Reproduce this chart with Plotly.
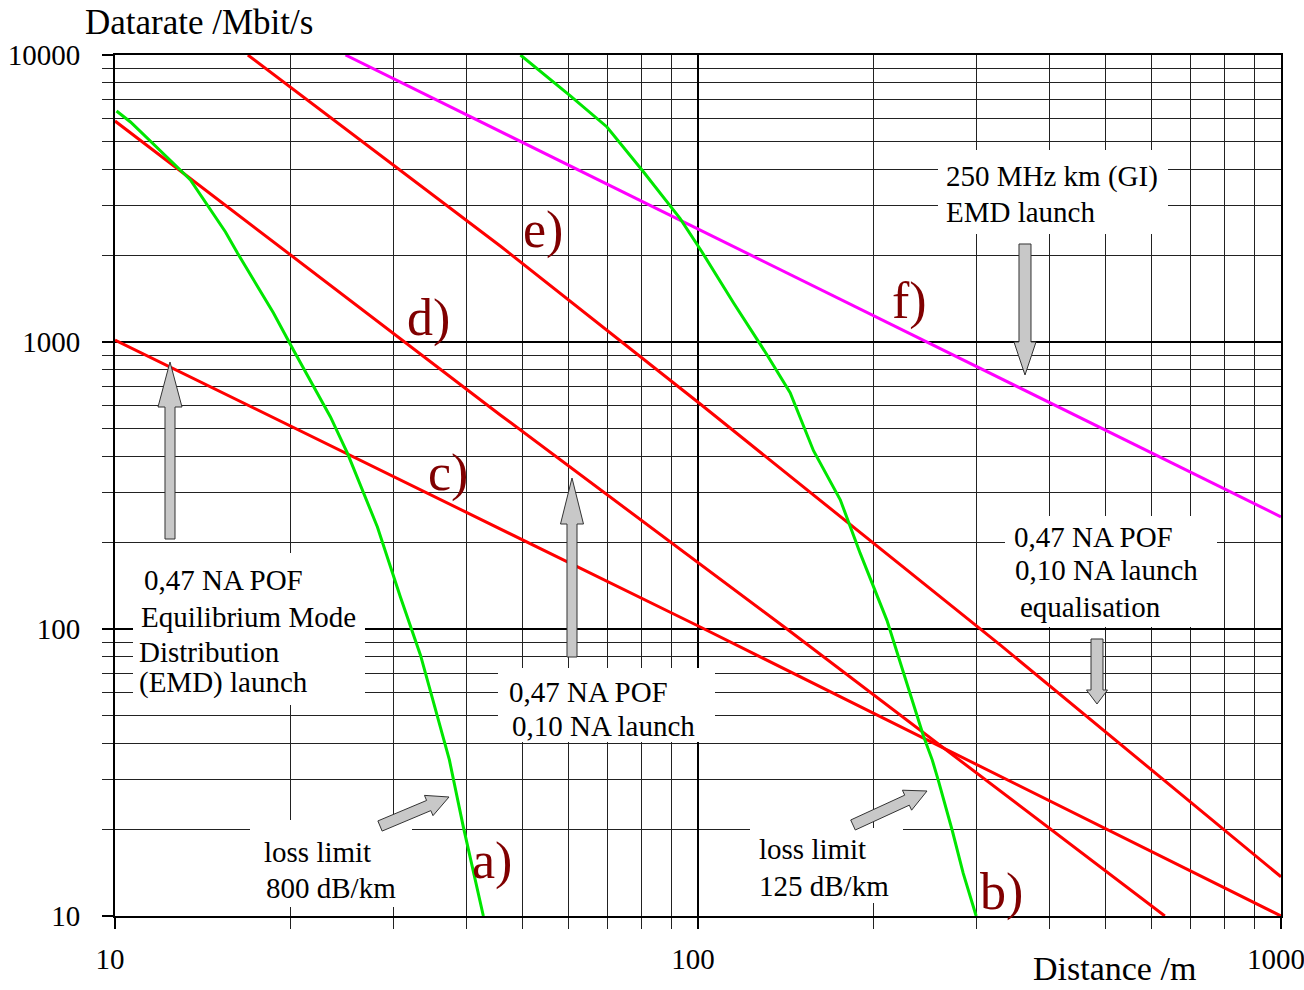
import math
import plotly.graph_objects as go

# ---------------- data ----------------
# a) loss limit 800 dB/km (green)
a_dist = [10.06, 10.63, 13.10, 13.47, 15.47, 16.22, 18.70, 20.23, 23.42, 25.04,
          28.19, 30.87, 33.41, 37.46, 39.59, 41.18, 42.84]
a_rate = [6381, 5843, 3880, 3668, 2417, 2042, 1262, 938, 548, 410,
          226.7, 129.3, 81.2, 34.97, 20.4, 14.46, 10]
# b) loss limit 125 dB/km (green)
b_dist = [49.6, 60.4, 69.8, 80.6, 93.2, 101.6, 115.1, 131.3, 143.9, 157.8,
          175.4, 189.8, 210.9, 243.7, 252.2, 258.2, 272.9, 285.0, 300.0]
b_rate = [10000, 7208, 5613, 3921, 2692, 2058, 1368, 903, 666, 418,
          282, 183.4, 107.2, 42.3, 35.0, 29.8, 19.9, 14.1, 10]
# c) EMD launch (red)
c_dist = [10, 100.9, 1000]
c_rate = [1016, 101.6, 10]
# d) 0,10 NA launch (red)
d_dist = [10, 45.8, 142.1, 632]
d_rate = [5888, 557, 100, 10]
# e) 0,10 NA launch equalisation (red)
e_dist = [16.9, 45.8, 100.9, 329.8, 1000]
e_rate = [10000, 2160, 608, 88.0, 13.7]
# f) 250 MHz km GI (magenta)
f_dist = [24.85, 1000]
f_rate = [10000, 246]

x_tick_vals = [10, 100, 1000]
x_tick_text = ["10", "100", "1000"]
y_tick_vals = [10, 100, 1000, 10000]
y_tick_text = ["10", "100", "1000", "10000"]
x_minor = [m * 10 ** k for k in (1, 2) for m in range(2, 10)]
y_minor = [m * 10 ** k for k in (1, 2, 3) for m in range(2, 10)]

# ---------------- layout helpers (pixel -> paper / data) ----------------
W, H = 1304, 990
L_M, R_M, T_M, B_M = 115, 23, 55, 74
X0, X1 = L_M, W - R_M
Y0, Y1 = T_M, H - B_M


def px(x):
    return (x - X0) / (X1 - X0)


def py(y):
    return (Y1 - y) / (Y1 - Y0)


def dx(x):
    return 10 ** (1 + 2 * (x - X0) / (X1 - X0))


def dy(y):
    return 10 ** (4 - 3 * (y - Y0) / (Y1 - Y0))


def arrow_path(x0, y0, x1, y1, sw, hw, hl):
    L = math.hypot(x1 - x0, y1 - y0)
    ux, uy = (x1 - x0) / L, (y1 - y0) / L
    nx, ny = -uy, ux
    bx, by = x1 - ux * hl, y1 - uy * hl
    pts = [(x0 + nx * sw, y0 + ny * sw), (bx + nx * sw, by + ny * sw),
           (bx + nx * hw, by + ny * hw), (x1, y1),
           (bx - nx * hw, by - ny * hw), (bx - nx * sw, by - ny * sw),
           (x0 - nx * sw, y0 - ny * sw)]
    return "M " + " L ".join(f"{px(a):.5f},{py(b):.5f}" for a, b in pts) + " Z"


FONT = "'Liberation Serif', 'Times New Roman', serif"

fig = go.Figure()
RED, GREEN, MAG = "#ff0000", "#00e600", "#ff00ff"
for xs, ys, col in [(c_dist, c_rate, RED), (d_dist, d_rate, RED),
                    (e_dist, e_rate, RED), (f_dist, f_rate, MAG),
                    (a_dist, a_rate, GREEN), (b_dist, b_rate, GREEN)]:
    fig.add_trace(go.Scatter(x=xs, y=ys, mode="lines",
                             line=dict(color=col, width=3), hoverinfo="skip"))

shapes = []
# white label boxes (between grid and traces)
boxes = [(938, 150, 1168, 234), (133, 553, 365, 705), (1005, 516, 1217, 627),
         (498, 668, 715, 742), (250, 820, 412, 907), (750, 828, 903, 903)]
for l, t, r, b in boxes:
    shapes.append(dict(type="rect", xref="x", yref="y", x0=dx(l), x1=dx(r),
                       y0=dy(b), y1=dy(t), fillcolor="white",
                       line=dict(width=0), layer="between"))
# block arrows
arrows = [(170, 539, 170, 362, 5, 12, 45), (572, 657, 572, 478, 5, 11.5, 46),
          (1025, 244, 1025, 375, 6, 11, 33), (1097, 639, 1097, 704, 6, 10.5, 14),
          (380, 826, 449, 797, 5.5, 11, 22), (853, 825, 927, 791, 5.5, 11, 22)]
for a in arrows:
    shapes.append(dict(type="path", xref="paper", yref="paper", path=arrow_path(*a),
                       fillcolor="#c8c8c8", line=dict(color="#333333", width=1),
                       layer="above"))

annotations = []
texts = [("250 MHz km (GI)", 944, 177), ("EMD launch", 944, 212),
         ("0,47 NA POF", 142, 580), ("Equilibrium Mode", 139, 617),
         ("Distribution", 137, 652), ("(EMD) launch", 137, 682),
         ("0,47 NA POF", 1012, 537), ("0,10 NA launch", 1013, 570),
         ("equalisation", 1018, 607),
         ("0,47 NA POF", 507, 692), ("0,10 NA launch", 510, 726),
         ("loss limit", 262, 852), ("800 dB/km", 264, 888),
         ("loss limit", 757, 849), ("125 dB/km", 757, 886)]
for t, x, y in texts:
    annotations.append(dict(text=t, xref="paper", yref="paper", x=px(x), y=py(y),
                            xanchor="left", yanchor="middle", showarrow=False,
                            font=dict(family=FONT, size=29, color="black")))
letters = [("a)", 492, 861), ("b)", 1001, 892), ("c)", 448, 473),
           ("d)", 429, 318), ("e)", 543, 230), ("f)", 910, 301)]
for t, x, y in letters:
    annotations.append(dict(text=t, xref="paper", yref="paper", x=px(x), y=py(y),
                            xanchor="center", yanchor="middle", showarrow=False,
                            font=dict(family=FONT, size=52, color="#800000")))
annotations.append(dict(text="Datarate /Mbit/s", xref="paper", yref="paper",
                        x=px(199), y=py(22), xanchor="center", yanchor="middle",
                        showarrow=False, font=dict(family=FONT, size=35, color="black")))
annotations.append(dict(text="Distance /m", xref="paper", yref="paper",
                        x=px(1114), y=py(989), xanchor="center", yanchor="bottom",
                        showarrow=False, font=dict(family=FONT, size=34, color="black")))

axis_common = dict(type="log", ticks="outside", ticklen=11, tickwidth=2,
                   tickcolor="black", showgrid=True, gridcolor="black", gridwidth=2,
                   showline=True, linecolor="black", linewidth=2, mirror=True,
                   zeroline=False, tickfont=dict(family=FONT, size=29, color="black"),
                   ticklabeloverflow="allow")

fig.update_layout(
    template="none",
    width=W, height=H,
    margin=dict(l=L_M, r=R_M, t=T_M, b=B_M, pad=0),
    paper_bgcolor="white", plot_bgcolor="white",
    showlegend=False,
    font=dict(family=FONT, size=29, color="black"),
    xaxis=dict(range=[1, 3], tickmode="array", tickvals=x_tick_vals,
               ticktext=x_tick_text, ticklabelstandoff=5, ticklabelshift=-5,
               minor=dict(tickmode="array", tickvals=x_minor, ticks="outside",
                          ticklen=11, tickwidth=1.3, tickcolor="#222222",
                          showgrid=True, gridcolor="#222222", gridwidth=1.3),
               **axis_common),
    yaxis=dict(range=[1, 4], tickmode="array", tickvals=y_tick_vals,
               ticktext=y_tick_text, ticklabelstandoff=16,
               minor=dict(tickmode="array", tickvals=y_minor, ticks="outside",
                          ticklen=11, tickwidth=1.3, tickcolor="#222222",
                          showgrid=True, gridcolor="#222222", gridwidth=1.3),
               **axis_common),
    shapes=shapes,
    annotations=annotations,
)

fig.write_html("out.html")
